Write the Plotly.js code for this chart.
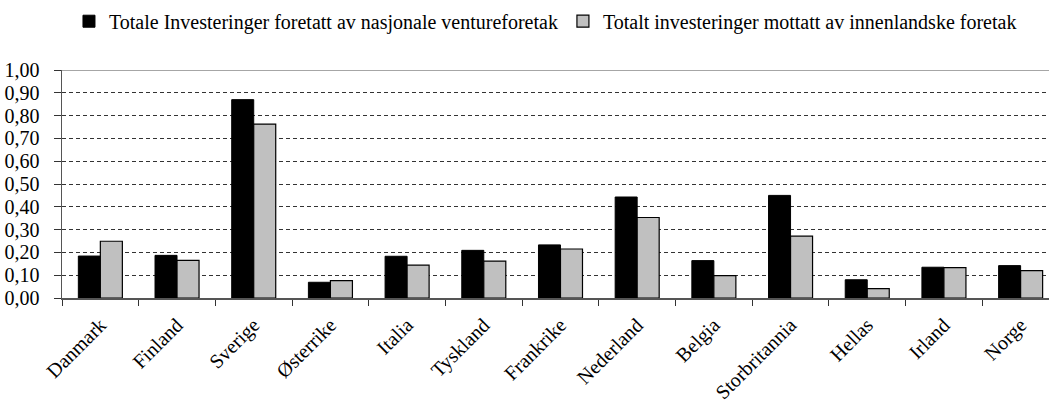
<!DOCTYPE html>
<html>
<head>
<meta charset="utf-8">
<script src="https://cdn.plot.ly/plotly-3.0.1.min.js"></script>
<style>
html,body{margin:0;padding:0;background:#fff;}
#chart{width:1049px;height:408px;}
</style>
</head>
<body>
<div id="chart"></div>
<script>
const countries = ["Danmark","Finland","Sverige","Østerrike","Italia","Tyskland","Frankrike","Nederland","Belgia","Storbritannia","Hellas","Irland","Norge"];
const seriesNames = ["Totale Investeringer foretatt av nasjonale ventureforetak","Totalt investeringer mottatt av innenlandske foretak"];
const nationalVenture = [0.184,0.187,0.870,0.069,0.183,0.209,0.233,0.443,0.164,0.450,0.080,0.135,0.142];
const domesticReceived = [0.249,0.165,0.763,0.076,0.144,0.162,0.215,0.353,0.098,0.271,0.041,0.133,0.120];
const yTicks = [0,0.1,0.2,0.3,0.4,0.5,0.6,0.7,0.8,0.9,1.0];

const fam = "Liberation Serif, serif";
const xFont = {family:fam, size:20, color:"#000"};
const yFont = {family:fam, size:20, color:"#000"};
const legFont = {family:fam, size:20, color:"#000"};

const traces = [
  {type:"bar", name:seriesNames[0], x:countries, y:nationalVenture,
   marker:{color:"#000000", line:{color:"#000000", width:1}}, hoverinfo:"none"},
  {type:"bar", name:seriesNames[1], x:countries, y:domesticReceived,
   marker:{color:"#c0c0c0", line:{color:"#000000", width:1.2}}, hoverinfo:"none"}
];

const layout = {
  width:1049, height:408,
  font:yFont,
  separators:",.",
  paper_bgcolor:"#fff", plot_bgcolor:"#fff",
  margin:{l:62, r:0, t:70, b:110, pad:0},
  barmode:"group", bargap:0.426, bargroupgap:0,
  showlegend:true,
  legend:{orientation:"h", xref:"container", yref:"container", x:0.52, y:0.948,
          xanchor:"center", yanchor:"middle", font:legFont, traceorder:"normal",
          itemwidth:30, tracegroupgap:0},
  xaxis:{type:"category", range:[-0.5, 12.37], tickangle:-45, tickson:"boundaries",
         ticks:"outside", ticklen:6, tickcolor:"#333", showline:true, linecolor:"#555",
         linewidth:1.5, mirror:false, showgrid:false, tickfont:xFont, ticklabelstandoff:6,
         automargin:false, fixedrange:true},
  yaxis:{range:[0,1.0], tickvals:yTicks, tickformat:".2f", ticks:"outside", ticklen:7,
         tickcolor:"#333", showline:true, linecolor:"#555", linewidth:1.5,
         showgrid:true, gridcolor:"#333", gridwidth:1, griddash:"4px,3px",
         zeroline:false, tickfont:yFont, ticklabelstandoff:10, automargin:false, fixedrange:true},
  shapes:[{type:"line", xref:"paper", yref:"y", x0:0, x1:1, y0:1.0, y1:1.0,
           line:{color:"#888", width:1.5}, layer:"above"}]
};

Plotly.newPlot("chart", traces, layout, {displayModeBar:false, staticPlot:true});
</script>
</body>
</html>
